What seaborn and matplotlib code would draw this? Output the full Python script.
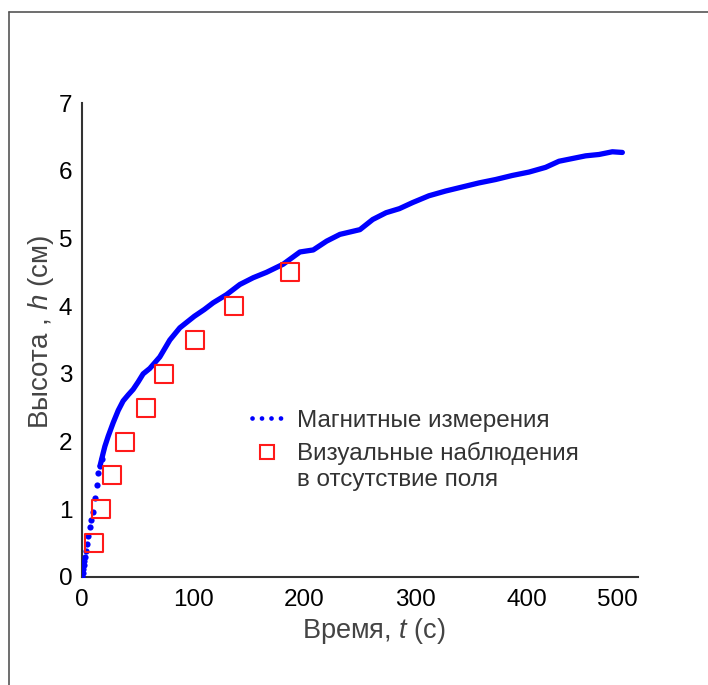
import matplotlib
matplotlib.use("Agg")
import matplotlib.pyplot as plt
import seaborn as sns
import pandas as pd
from matplotlib.lines import Line2D
from matplotlib.legend_handler import HandlerLine2D

# ---- data ----
t_mag = [0, 0.5, 1.0, 1.5, 2.0, 2.7, 3.5, 4.5, 5.7, 7.2, 8.5, 10.0, 11.7, 13.2, 14.7,
         16.2, 17.7, 19.2, 20.6, 23.6, 28.1, 32.6, 37.0, 41.6, 46.0, 50.5, 55.0,
         61.0, 70.0, 79.0, 88.0, 101.0, 110.0, 118.0, 130.0, 142.0, 154.0, 166.0,
         181.0, 196.0, 208.0, 220.0, 232.0, 250.0, 261.5, 273.5, 285.5, 297.4,
         312.0, 327.0, 342.0, 357.0, 372.0, 387.0, 402.0, 417.0, 429.0, 441.0,
         453.0, 465.0, 477.0, 486.0]
h_mag = [0, 0.06, 0.12, 0.18, 0.24, 0.30, 0.38, 0.48, 0.60, 0.74, 0.84, 0.96, 1.16, 1.36, 1.53,
         1.64, 1.74, 1.84, 1.93, 2.08, 2.28, 2.46, 2.60, 2.69, 2.77, 2.88, 3.00,
         3.08, 3.25, 3.50, 3.68, 3.85, 3.95, 4.05, 4.17, 4.32, 4.42, 4.50,
         4.62, 4.80, 4.83, 4.96, 5.06, 5.13, 5.28, 5.38, 5.44, 5.53,
         5.63, 5.70, 5.76, 5.82, 5.87, 5.93, 5.98, 6.05, 6.14, 6.18,
         6.22, 6.24, 6.28, 6.27]

t_vis = [10.8, 17.0, 27.0, 38.6, 57.5, 73.6, 102.0, 137.0, 187.0]
h_vis = [0.5, 1.0, 1.5, 2.0, 2.5, 3.0, 3.5, 4.0, 4.5]

x_ticks = [0, 100, 200, 300, 400, 500]
y_ticks = [0, 1, 2, 3, 4, 5, 6, 7]

label_mag = "Магнитные измерения"
label_vis = "Визуальные наблюдения\nв отсутствие поля"
xlabel = r"Время, $\it{t}$ (с)"
ylabel = r"Высота , $\it{h}$ (см)"

sns.set_theme(style="white")
plt.rcParams["font.family"] = ["Liberation Sans", "DejaVu Sans"]
plt.rcParams["mathtext.fontset"] = "custom"
plt.rcParams["mathtext.it"] = "Liberation Sans:italic"
plt.rcParams["mathtext.rm"] = "Liberation Sans"

df_mag = pd.DataFrame({"t": t_mag, "h": h_mag})
df_vis = pd.DataFrame({"t": t_vis, "h": h_vis})

fig = plt.figure(figsize=(7.08, 6.85), dpi=100)
ax = fig.add_axes([0.1158, 0.1577, 0.7852, 0.6919])

BLUE = "#0000ff"
RED = "#ff1a1a"
# early sparse samples appear as distinct dots; later dense samples merge into a solid trace
df_dense = df_mag[df_mag["t"] >= 16]
sns.lineplot(data=df_dense, x="t", y="h", ax=ax, color=BLUE, linewidth=3.8,
             solid_capstyle="round", solid_joinstyle="round", sort=False)
sns.scatterplot(data=df_mag[df_mag["t"] < 18], x="t", y="h", ax=ax, color=BLUE,
                s=20, linewidth=0, zorder=3)
sns.scatterplot(data=df_vis, x="t", y="h", ax=ax, marker="s", s=170,
                facecolor="none", edgecolor=RED, linewidth=1.5, zorder=4)

ax.set_xlim(0, 500)
ax.set_ylim(0, 7)
ax.set_xticks(x_ticks)
ax.set_yticks(y_ticks)
ax.set_xticklabels([str(v) for v in x_ticks])
ax.set_yticklabels([str(v) for v in y_ticks])
ax.tick_params(axis="both", direction="in", length=6, width=1.3, color="#333333",
               labelsize=17.5, labelcolor="black")
ax.tick_params(axis="x", pad=9)
ax.tick_params(axis="y", pad=7)
ax.get_xticklabels()[-1].set_ha("right")
for side in ["top", "right"]:
    ax.spines[side].set_visible(False)
for side in ["left", "bottom"]:
    ax.spines[side].set_color("#333333")
    ax.spines[side].set_linewidth(1.5)

ax.set_xlabel(xlabel, fontsize=19.5, color="#444444")
ax.xaxis.set_label_coords(0.525, -0.083)
ax.set_ylabel(ylabel, fontsize=20, color="#444444", labelpad=2)
ax.yaxis.label.set_y(0.517)


class ShiftedHandler(HandlerLine2D):
    def __init__(self, shift, **kw):
        super().__init__(**kw)
        self.shift = shift

    def create_artists(self, legend, orig_handle, xdescent, ydescent, width, height,
                       fontsize, trans):
        arts = super().create_artists(legend, orig_handle, xdescent, ydescent, width,
                                      height, fontsize, trans)
        for a in arts:
            a.set_ydata([y + self.shift for y in a.get_ydata()])
        return arts


h_mag_handle = Line2D([], [], color=BLUE, linestyle=(0, (0.01, 2.0)), linewidth=3.4,
                      dash_capstyle="round")
h_vis_handle = Line2D([], [], color=RED, marker="s", linestyle="none", markersize=10.5,
                      markerfacecolor="none", markeredgewidth=1.5)
leg = ax.legend([h_mag_handle, h_vis_handle], [label_mag, label_vis], loc="upper left",
                bbox_to_anchor=(0.305, 0.353), frameon=False, fontsize=17.5,
                handlelength=1.25, handletextpad=0.6, labelspacing=0.4,
                borderaxespad=0, borderpad=0,
                handler_map={h_vis_handle: ShiftedHandler(10)})
for txt in leg.get_texts():
    txt.set_color("#333333")
    txt.set_linespacing(1.25)

# figure border (top and left)
fig.add_artist(Line2D([9 / 708, 9 / 708], [0, 1 - 12 / 685], transform=fig.transFigure,
                      color="#555555", linewidth=1.2))
fig.add_artist(Line2D([9 / 708, 1], [1 - 12 / 685, 1 - 12 / 685], transform=fig.transFigure,
                      color="#555555", linewidth=1.2))

fig.savefig("out.png", dpi=100)
